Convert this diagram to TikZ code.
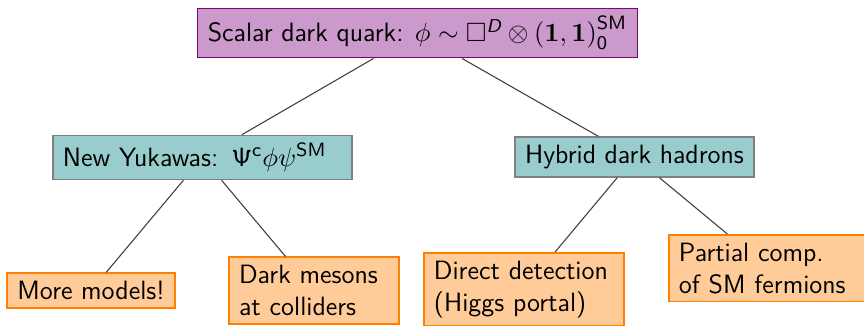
\documentclass[tikz,border=0pt]{standalone}
\usepackage{amsmath,amssymb}
\renewcommand{\familydefault}{\sfdefault}

\definecolor{darkpurple}{RGB}{128,0,128}
\definecolor{lightpurple}{RGB}{204,153,204}
\definecolor{boxgray}{RGB}{128,128,128}
\definecolor{lightteal}{RGB}{153,204,204}
\definecolor{darkorange}{RGB}{255,128,0}
\definecolor{lightorange}{RGB}{255,204,153}

\begin{document}
\begin{tikzpicture}[x=0.415pt, y=-0.415pt,
    every node/.style={font=\fontsize{11}{13.2}\selectfont\sffamily, align=left,
      inner xsep=4.2pt, inner ysep=3.3pt, line width=0.7pt},
    scalar/.style={draw=darkpurple, fill=lightpurple},
    model/.style={draw=boxgray, fill=lightteal},
    pheno/.style={draw=darkorange, fill=lightorange},
    edge/.style={draw=black!75, line width=0.45pt}]

    \useasboundingbox (0,0) rectangle (864,326);
    \clip (0,0) rectangle (864,326);

    % Root
    \node[scalar] (dark) at (417.5,33)
        {Scalar dark quark: $\phi\sim\square^{\textit{D}}\otimes\mathbf{(1,1)}^{\mathsf{SM}}_{\mathsf{0}}$};

    % Second level
    \node[model, text width=115.8pt] (yukawa) at (202.5,157.5)
        {New Yukawas: $\mathsf{\Psi}^{\mathsf{c}}\phi\psi^{\mathsf{SM}}$};
    \node[model] (hybrid) at (634.5,157) {Hybrid dark hadrons};

    % Leaves
    \node[pheno] (more) at (91,290.5) {More models!};
    \node[pheno, text width=62.2pt] (mesons) at (314,290.5) {Dark mesons\\at colliders};
    \node[pheno, text width=74.7pt, anchor=north west] (direct) at (423,252) {Direct detection\\(Higgs portal)};
    \node[pheno, text width=74.3pt, anchor=north west] (partial) at (668,234) {Partial comp.\\of SM fermions};

    % Connections
    \draw[edge] (dark) -- (yukawa);
    \draw[edge] (dark) -- (hybrid);
    \draw[edge] (yukawa) -- (more);
    \draw[edge] (yukawa) -- (mesons);
    \draw[edge] (hybrid) -- (direct);
    \draw[edge] (hybrid) -- (partial);

\end{tikzpicture}
\end{document}
